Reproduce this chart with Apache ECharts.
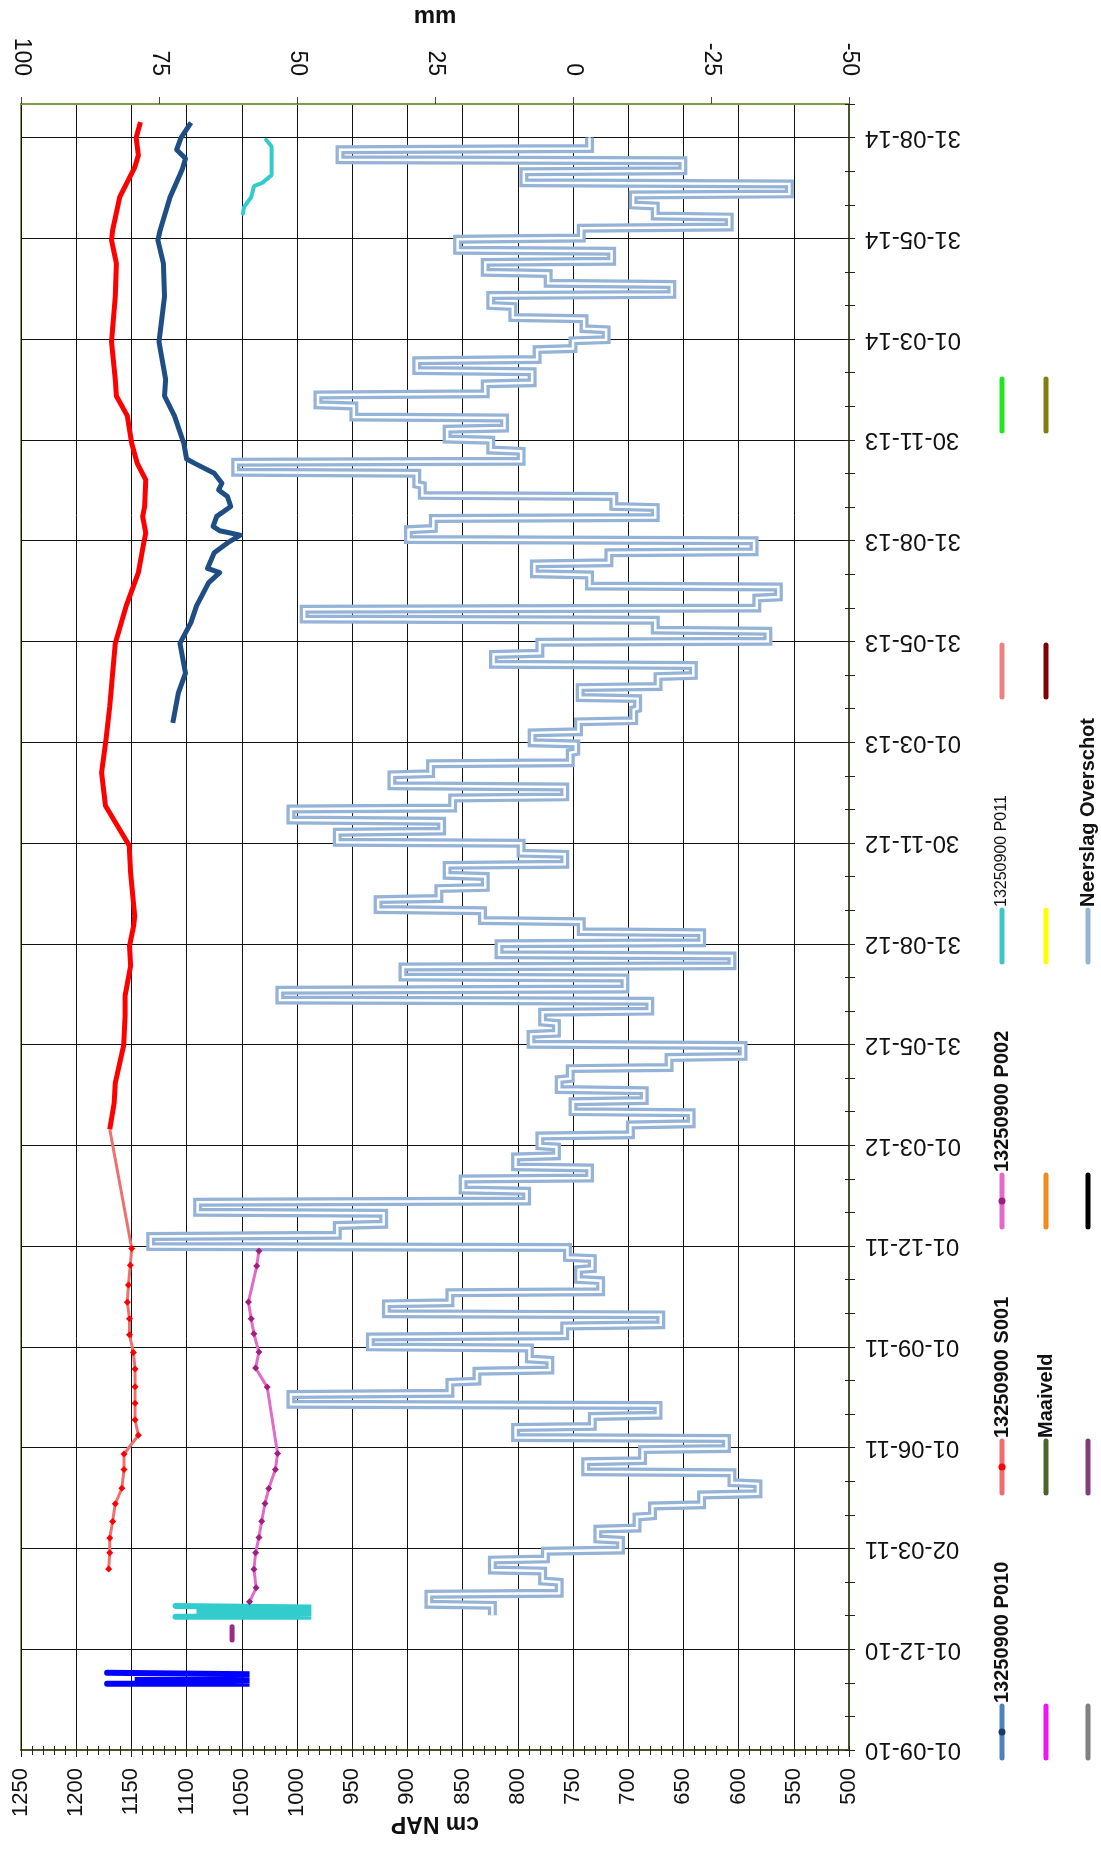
<!DOCTYPE html>
<html><head><meta charset="utf-8">
<script src="https://cdn.jsdelivr.net/npm/echarts@6/dist/echarts.min.js"></script>
<style>html,body{margin:0;padding:0;background:#fff}#chart{width:1101px;height:1856px}</style>
</head><body><div id="chart"></div>
<script>
// All time values: days since 01-09-2010 (start of the date axis)
const dateAxisStep = 91.25;          // tick step of the date axis (days)
const dateAxisMax = 1490.4;          // top end of the date axis (days)
const cmTicks = { min: 500, max: 1250, step: 50 };
const mmTicks = { min: -50, max: 100, step: 25 };

// 13250900 P010 (daily logger, cm NAP)
const p010Days = [930, 957, 975, 1002, 1021, 1036, 1057, 1066, 1070, 1084, 1093, 1100, 1104, 1108, 1117, 1126, 1135, 1141, 1147, 1156, 1165, 1169, 1183, 1208, 1226, 1241, 1275, 1316, 1346, 1367, 1376, 1406, 1431, 1441, 1449, 1460, 1473.5];
const p010Vals = [1112.5, 1107.5, 1101, 1106, 1096, 1091, 1080, 1070, 1081, 1075, 1063, 1051.4, 1070, 1076, 1072.7, 1060, 1063, 1071, 1068, 1075, 1092.6, 1100, 1102.5, 1111, 1120, 1119, 1125, 1120, 1121, 1126, 1124, 1115, 1104, 1101, 1109, 1105, 1096];

// 13250900 S001 manual readings (markers) and daily logger part
const s001SparseDays = [164, 178.5, 192, 207, 223, 237, 254, 268, 285, 299, 314, 329, 345, 360, 376, 390.5, 405.5, 421, 439, 454, 562];
const s001SparseVals = [1170.6, 1169.6, 1169.6, 1167, 1164.6, 1158.6, 1156.7, 1156.7, 1143.7, 1146.7, 1146.7, 1146.7, 1146.7, 1148.2, 1151.7, 1151.7, 1153.7, 1152.7, 1151, 1149.7, 1169.6];
const s001DenseDays = [562, 586, 604, 638, 665, 683, 710, 728, 746, 755, 794, 819, 840, 855, 885, 915, 945, 975, 1002, 1036, 1066, 1093, 1102, 1117, 1126, 1150, 1165, 1183, 1208, 1226, 1241, 1275, 1316, 1346, 1367, 1376, 1406, 1433, 1444, 1460, 1474];
const s001DenseVals = [1169.6, 1165.6, 1164.6, 1157, 1155.7, 1155.7, 1150.7, 1151.7, 1148, 1147, 1150.7, 1152, 1164.6, 1173.5, 1177, 1173, 1169.6, 1167, 1164.6, 1154.7, 1143.7, 1138.8, 1137, 1139.8, 1138, 1137, 1144.7, 1149.7, 1153.7, 1163.6, 1164.6, 1168, 1164.6, 1163.6, 1168, 1167, 1160.6, 1147, 1143.7, 1145.7, 1141.8];

// 13250900 P002
const p002Days = [134.2, 146.8, 163.7, 178.5, 192.4, 207.1, 223.2, 236.7, 253.9, 268.4, 328.7, 345.8, 360.3, 376.9, 390.5, 405.6, 438.2, 451.9];
const p002Vals = [1043, 1037, 1039, 1037.5, 1034.5, 1032, 1029, 1025.6, 1019.6, 1017.6, 1027, 1037.5, 1034.5, 1039, 1041.5, 1044, 1036.5, 1034.5];

// 13250900 P011 (burst of readings Jan 2011, and summer 2014)
const p011BlockDays = [120.6, 120.7, 122.0, 122.1, 123.4, 123.5, 124.8, 124.9, 126.2, 126.3, 127.6, 127.7, 129.0, 129.1, 130.4, 130.5];
const p011BlockVals = [1110, 987, 987, 1091, 1091, 987, 987, 1091, 1091, 987, 987, 1091, 1091, 987, 987, 1110];
const p011LateDays = [1391, 1397, 1406, 1416, 1419, 1426, 1452, 1458];
const p011LateVals = [1049, 1048, 1041.5, 1039, 1031.5, 1023, 1023, 1028];

// Blue burst (Nov 2010) and purple short series (Dec 2010)
const blueBlockDays = [60.0, 60.1, 61.4, 61.5, 62.8, 62.9, 64.2, 64.3, 65.6, 65.7, 67.0, 67.1, 68.4, 68.5, 69.9, 70.0];
const blueBlockVals = [1172, 1043, 1043, 1147, 1147, 1043, 1043, 1147, 1147, 1043, 1043, 1147, 1147, 1043, 1043, 1172];
const purpleDays = [99.5, 111.5];
const purpleVals = [1058.8, 1058.8];

// Neerslag Overschot (mm per decade), first decade = 1-10 Jan 2011
const neerslagMm = [
  14.6, 26.1, 2.5, 5.5, 14.6, 5.0, -8.6, -4.5, -11.6, -14.4, -23.3, -33.5,
  -28.8, -2.3, -12.6, -27.8, 10.4, -3.5, -15.4, 51.1, 22.3, 17.4, 4.2, 7.9,
  36.7, 1.5, -15.9, 33.8, 22.3, -5.0, -1.0, -3.5, 1.0, 76.5, 42.7, 34.3,
  68.0, 8.4, 19.9, -3.0, 10.4, 3.0, 6.0, -10.4, -21.4, 0.0, -12.9, 2.5,
  0.5, -17.4, -30.8, 7.6, 3.0, 5.5, -13.9, 53.1, -9.4, 30.8, -28.8, 13.4,
  -23.3, -1.5, 16.4, 35.3, 24.3, 15.9, 22.8, 1.5, 9.4, 42.7, 23.8, 51.1,
  21.8, 1.5, 32.8, 25.8, 0.5, -0.5, 7.4, -1.0, -11.0, -11.7, -1.3, -15.4,
  -21.8, 14.4, 6.0, -35.3, -14.9, 48.7, -33.3, -37.2, -3.0, 7.0, -6.5, -32.8,
  29.8, 25.3, -14.9, -7.4, 27.3, 28.3, 61.1, 9.4, 14.9, 22.8, 12.4, 39.7,
  46.2, 15.9, 7.4, 28.3, 6.5, 0.0, -6.0, -2.0, 10.9, 14.9, -17.9, 4.5,
  15.9, -7.0, 20.9, -1.5, -28.3, -14.9, -10.9, -39.2, 8.9, -19.9, 42.2, -3.0
];

// Legend entries (rows bottom->top, three columns)
const legendNames = [
  ['13250900 P010', '', ''],
  ['13250900 S001', 'Maaiveld', ''],
  ['13250900 P002', '', ''],
  ['13250900 P011', '', 'Neerslag Overschot'],
  ['', '', null],
  ['', '', null]
];
const legendColors = [
  ['#4f81bd', '#ee16ee', '#808080'],
  ['#ee6e6c', '#4f6228', '#7f3f7f'],
  ['#e36bc8', '#f28a1f', '#000000'],
  ['#3ec6c6', '#ffff00', '#95b3d7'],
  ['#f08080', '#7f0000', null],
  ['#22e622', '#7f7f10', null]
];
const legendDots = [['#1f3864', null, null], ['#ff0000', null, null], ['#9e1f80', null, null], [null, null, null], [null, null, null], [null, null, null]];

// ---------- helpers ----------
const DAY = 86400000, ORIGIN = Date.UTC(2010, 8, 1);
function dayIndex(y, m, d) { return (Date.UTC(y, m, d) - ORIGIN) / DAY; }
function pad(n) { return (n < 10 ? '0' : '') + n; }
function fmtDate(v) {
  const d = new Date(ORIGIN + Math.floor(v + 1e-6) * DAY);
  return pad(d.getUTCDate()) + '-' + pad(d.getUTCMonth() + 1) + '-' + pad(d.getUTCFullYear() % 100);
}
function pairs(days, vals) { return days.map((d, i) => [vals[i], d]); }

const neerslagPts = [];
neerslagMm.forEach((v, i) => {
  const mo = Math.floor(i / 3), dk = i % 3;
  const y = 2011 + Math.floor(mo / 12), m = mo % 12;
  const s = [1, 11, 21][dk];
  const e = dk < 2 ? s + 9 : new Date(Date.UTC(y, m + 1, 0)).getUTCDate();
  neerslagPts.push([v, dayIndex(y, m, s)], [v, dayIndex(y, m, e)]);
});

const FONT = '"Liberation Sans", Arial, sans-serif';
const sparse = pairs(s001SparseDays, s001SparseVals);
sparse[sparse.length - 1] = { value: sparse[sparse.length - 1], symbol: 'none' };

// ---------- legend graphics ----------
const colX = [1002, 1046, 1088];
const rowTop = [1706, 1441, 1175, 910, 645, 379];
const segLen = 52;
const graphics = [];
legendColors.forEach((row, r) => row.forEach((c, k) => {
  if (!c) return;
  const x = colX[k], y0 = rowTop[r], y1 = y0 + segLen;
  graphics.push({ type: 'line', shape: { x1: x, y1: y0, x2: x, y2: y1 },
    style: { stroke: c, lineWidth: 5, lineCap: 'round' } });
  const dot = legendDots[r][k];
  if (dot) graphics.push({ type: 'circle', shape: { cx: x, cy: (y0 + y1) / 2, r: 3.5 }, style: { fill: dot } });
  const name = legendNames[r][k];
  if (name) {
    const small = name === '13250900 P011';
    graphics.push({ type: 'text', x: x, y: y0 - 3, rotation: Math.PI / 2,
      style: { text: name, fill: '#111', textAlign: 'left', textVerticalAlign: 'middle',
        font: (small ? 'normal 16px ' : 'bold 20px ') + FONT } });
  }
}));

const chart = echarts.init(document.getElementById('chart'), null, { renderer: 'canvas' });
const axisText = { fontFamily: FONT, fontSize: 23, color: '#111' };
const plain = v => String(v);
chart.setOption({
  animation: false,
  backgroundColor: '#fff',
  textStyle: { fontFamily: FONT },
  grid: { left: 21, right: 252, top: 104, bottom: 106, show: true, borderColor: '#86a04d', borderWidth: 2, containLabel: false, outerBoundsMode: 'none' },
  xAxis: [
    { type: 'value', position: 'bottom', min: cmTicks.min, max: cmTicks.max, interval: cmTicks.step, inverse: true,
      name: 'cm NAP', nameLocation: 'middle', nameGap: 62, nameRotate: 180, nameMoveOverlap: false,
      nameTextStyle: { fontFamily: FONT, fontWeight: 'bold', fontSize: 23, color: '#111' },
      axisLine: { show: true, onZero: false, lineStyle: { color: '#48552a', width: 2 } },
      axisTick: { show: true, inside: false, length: 7, lineStyle: { color: '#222' } },
      minorTick: { show: true, splitNumber: 5, length: 5, lineStyle: { color: '#222' } },
      axisLabel: Object.assign({ rotate: 90, margin: 18, formatter: plain }, axisText, { fontSize: 22 }),
      splitLine: { show: true, lineStyle: { color: '#111', width: 1 } } },
    { type: 'value', position: 'top', min: mmTicks.min, max: mmTicks.max, interval: mmTicks.step, inverse: true,
      name: 'mm', nameLocation: 'middle', nameGap: 76, nameMoveOverlap: false,
      nameTextStyle: { fontFamily: FONT, fontWeight: 'bold', fontSize: 24, color: '#111' },
      axisLine: { show: true, onZero: false, lineStyle: { color: '#7f9a48', width: 2 } },
      axisTick: { show: true, length: 7, lineStyle: { color: '#445' } },
      axisLabel: Object.assign({ rotate: 90, margin: 28, formatter: plain }, axisText),
      splitLine: { show: false } },
    { type: 'value', position: 'bottom', min: cmTicks.min, max: cmTicks.max, interval: 10, inverse: true,
      axisLine: { show: false, onZero: false }, axisTick: { show: true, inside: true, length: 4, lineStyle: { color: '#222' } },
      axisLabel: { show: false }, splitLine: { show: false } }
  ],
  yAxis: [
    { type: 'value', position: 'right', min: 0, max: dateAxisMax, interval: dateAxisStep,
      axisLine: { show: true, onZero: false, lineStyle: { color: '#48552a', width: 2 } },
      axisTick: { show: false },
      axisLabel: Object.assign({ rotate: 180, margin: 16, formatter: fmtDate, showMaxLabel: false }, axisText, { fontSize: 24 }),
      splitLine: { show: true, lineStyle: { color: '#111', width: 1 } } },
    { type: 'value', position: 'right', min: 0, max: dateAxisMax, interval: dateAxisStep / 3,
      axisLine: { show: false, onZero: false }, axisTick: { show: true, length: 6, lineStyle: { color: '#222' } },
      axisLabel: { show: false }, splitLine: { show: false } },
    { type: 'value', position: 'right', min: 0, max: dateAxisMax, interval: dateAxisStep / 3,
      axisLine: { show: false, onZero: false }, axisTick: { show: true, inside: true, length: 4, lineStyle: { color: '#222' } },
      axisLabel: { show: false }, splitLine: { show: false } }
  ],
  graphic: graphics,
  series: [
    { name: 'Neerslag Overschot', type: 'line', xAxisIndex: 1, yAxisIndex: 0, data: neerslagPts, symbol: 'none',
      lineStyle: { color: '#95b3d7', width: 9, join: 'miter' } },
    { name: 'Neerslag Overschot', type: 'line', xAxisIndex: 1, yAxisIndex: 0, data: neerslagPts, symbol: 'none',
      lineStyle: { color: '#ffffff', width: 2.5, join: 'miter' } },
    { name: '13250900 P010', type: 'line', data: pairs(p010Days, p010Vals), symbol: 'none',
      lineStyle: { color: '#1f4e85', width: 5, join: 'round' } },
    { name: '13250900 S001', type: 'line', data: pairs(s001DenseDays, s001DenseVals), symbol: 'none',
      lineStyle: { color: '#ff0000', width: 5, join: 'round' } },
    { name: '13250900 S001', type: 'line', data: sparse, symbol: 'diamond', symbolSize: 7,
      itemStyle: { color: '#ff0000' }, lineStyle: { color: '#f07070', width: 3 } },
    { name: '13250900 P002', type: 'line', data: pairs(p002Days, p002Vals), symbol: 'diamond', symbolSize: 7,
      itemStyle: { color: '#9e1f80' }, lineStyle: { color: '#e36bc8', width: 3 } },
    { name: '13250900 P011', type: 'line', data: pairs(p011BlockDays, p011BlockVals), symbol: 'none',
      lineStyle: { color: '#33cccc', width: 6, cap: 'round' } },
    { name: '13250900 P011', type: 'line', data: pairs(p011LateDays, p011LateVals), symbol: 'none',
      lineStyle: { color: '#33cccc', width: 4, cap: 'round' } },
    { name: 'blauw', type: 'line', data: pairs(blueBlockDays, blueBlockVals), symbol: 'none',
      lineStyle: { color: '#0000ff', width: 6, cap: 'round' } },
    { name: 'paars', type: 'line', data: pairs(purpleDays, purpleVals), symbol: 'none',
      lineStyle: { color: '#9b2a86', width: 5, cap: 'round' } }
  ]
});
</script></body></html>
